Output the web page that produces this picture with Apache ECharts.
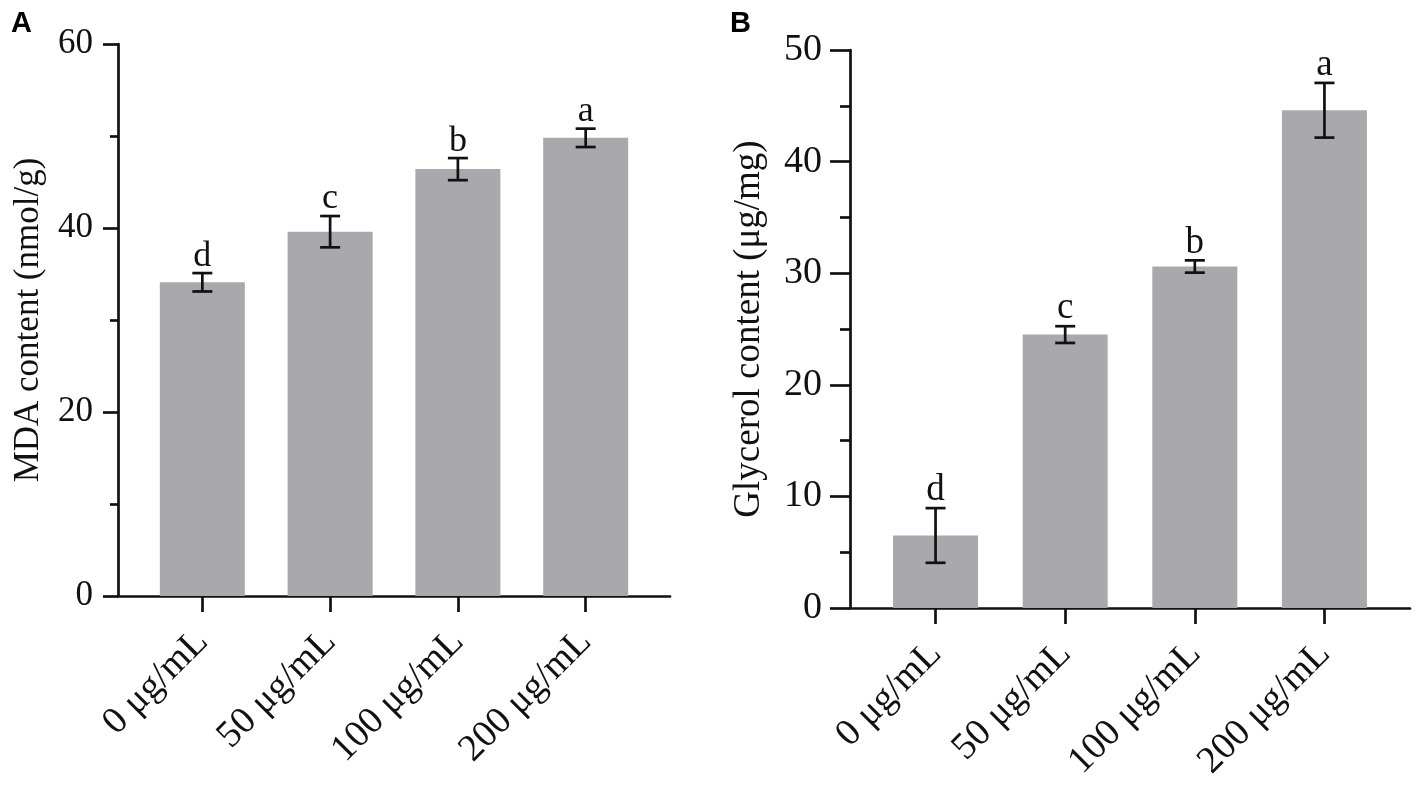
<!DOCTYPE html>
<html>
<head>
<meta charset="utf-8">
<script src="https://cdn.jsdelivr.net/npm/echarts@6.0.0/dist/echarts.min.js"></script>
<style>
html,body{margin:0;padding:0;background:#fff;}
#chart{width:1417px;height:788px;}
</style>
</head>
<body>
<div id="chart"></div>
<script>
// ---- data ----
var categories = ['0 μg/mL', '50 μg/mL', '100 μg/mL', '200 μg/mL'];
var mdaValues = [34.1, 39.6, 46.4, 49.8];
var mdaErrors = [1.0, 1.7, 1.2, 1.0];
var mdaLetters = ['d', 'c', 'b', 'a'];
var glyValues = [6.5, 24.5, 30.6, 44.6];
var glyErrors = [2.45, 0.75, 0.55, 2.45];
var glyLetters = ['d', 'c', 'b', 'a'];
var mdaTicks = [0, 20, 40, 60];
var glyTicks = [0, 10, 20, 30, 40, 50];

var SERIF = '"Liberation Serif", "Times New Roman", serif';
var SANS = '"Liberation Sans", Arial, sans-serif';
var BAR_COLOR = '#a9a8ac';
var LW = 2.7;
var positions = categories.map(function (c, i) { return i; });

function barData(vals) { return vals.map(function (v, i) { return [i, v]; }); }
function errData(vals, errs, letters) {
  return vals.map(function (v, i) { return [i, v - errs[i], v + errs[i], letters[i]]; });
}

function makeRenderErr(fontSize) {
  return function (params, api) {
    var x = api.value(0);
    var lo = api.coord([x, api.value(1)]);
    var hi = api.coord([x, api.value(2)]);
    var half = 10;
    var st = { stroke: '#111', lineWidth: LW };
    return {
      type: 'group',
      children: [
        { type: 'line', shape: { x1: hi[0], y1: hi[1], x2: lo[0], y2: lo[1] }, style: st },
        { type: 'line', shape: { x1: hi[0] - half, y1: hi[1], x2: hi[0] + half, y2: hi[1] }, style: st },
        { type: 'line', shape: { x1: lo[0] - half, y1: lo[1], x2: lo[0] + half, y2: lo[1] }, style: st },
        { type: 'text', x: hi[0], y: hi[1] + 1,
          style: { text: String(api.value(3)), fill: '#111', font: fontSize + 'px ' + SERIF,
                   align: 'center', verticalAlign: 'bottom' } }
      ]
    };
  };
}

function xAxisCfg(gridIndex) {
  return {
    type: 'value', gridIndex: gridIndex, min: -0.66, max: 3.66,
    splitLine: { show: false },
    axisLine: { show: true, onZero: false, lineStyle: { color: '#111', width: LW } },
    axisTick: { show: true, customValues: positions, length: 16, lineStyle: { color: '#111', width: LW } },
    axisLabel: { customValues: positions, rotate: 45, margin: 40, color: '#111',
                 fontFamily: SERIF, fontSize: 38,
                 formatter: function (v) { return categories[Math.round(v)]; } }
  };
}

function yAxisCfg(gridIndex, ticks, name, nameGap, nameSize, labelSize, tickLen, minorLen, margin) {
  return {
    type: 'value', gridIndex: gridIndex, min: ticks[0], max: ticks[ticks.length - 1],
    interval: ticks[1] - ticks[0],
    name: name, nameLocation: 'middle', nameGap: nameGap,
    nameTextStyle: { fontFamily: SERIF, fontSize: nameSize, color: '#111' },
    splitLine: { show: false },
    axisLine: { show: true, onZero: false, lineStyle: { color: '#111', width: LW } },
    axisTick: { show: true, length: tickLen, lineStyle: { color: '#111', width: LW } },
    minorTick: { show: true, splitNumber: 2, length: minorLen, lineStyle: { color: '#111', width: LW } },
    axisLabel: { margin: margin, color: '#111', fontFamily: SERIF, fontSize: labelSize }
  };
}

var chart = echarts.init(document.getElementById('chart'), null, { renderer: 'canvas' });
chart.setOption({
  animation: false,
  backgroundColor: '#fff',
  title: [
    { text: 'A', left: 6, top: 4, textStyle: { fontFamily: SANS, fontWeight: 'bold', fontSize: 29, color: '#000' } },
    { text: 'B', left: 725, top: 4, textStyle: { fontFamily: SANS, fontWeight: 'bold', fontSize: 29, color: '#000' } }
  ],
  grid: [
    { left: 118, top: 44, width: 552, height: 552 },
    { left: 850, top: 50, width: 560, height: 558 }
  ],
  xAxis: [xAxisCfg(0), xAxisCfg(1)],
  yAxis: [
    yAxisCfg(0, mdaTicks, 'MDA content (nmol/g)', 72, 35, 35, 15, 8, 25),
    yAxisCfg(1, glyTicks, 'Glycerol content (μg/mg)', 82, 37, 38, 20, 10, 28)
  ],
  series: [
    { type: 'bar', xAxisIndex: 0, yAxisIndex: 0, data: barData(mdaValues), barWidth: 85, itemStyle: { color: BAR_COLOR } },
    { type: 'custom', xAxisIndex: 0, yAxisIndex: 0, data: errData(mdaValues, mdaErrors, mdaLetters), renderItem: makeRenderErr(36), z: 5 },
    { type: 'bar', xAxisIndex: 1, yAxisIndex: 1, data: barData(glyValues), barWidth: 85, itemStyle: { color: BAR_COLOR } },
    { type: 'custom', xAxisIndex: 1, yAxisIndex: 1, data: errData(glyValues, glyErrors, glyLetters), renderItem: makeRenderErr(37), z: 5 }
  ]
});
</script>
</body>
</html>
